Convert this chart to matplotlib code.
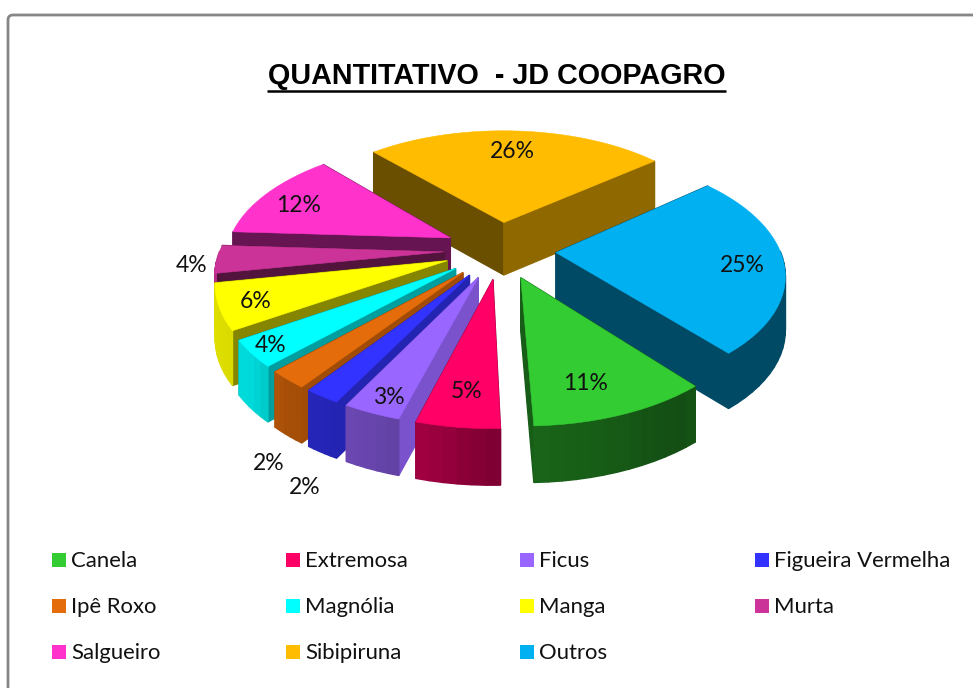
import numpy as np
import matplotlib
matplotlib.use("Agg")
import matplotlib.pyplot as plt
from matplotlib.patches import Polygon, FancyBboxPatch, Rectangle

title = "QUANTITATIVO  - JD COOPAGRO"
categories = ["Canela", "Extremosa", "Ficus", "Figueira Vermelha", "Ipê Roxo", "Magnólia",
              "Manga", "Murta", "Salgueiro", "Sibipiruna", "Outros"]
values = [10.6, 4.9, 3.4, 2.1, 2.4, 3.6, 6.2, 3.8, 12.4, 25.7, 24.9]
colors = ["#33CC33", "#FF0066", "#9966FF", "#3333FF", "#E46C0A", "#00FFFF",
          "#FFFF00", "#CC3399", "#FF33CC", "#FFBC00", "#00B0F0"]
# darkness of the two flat walls of each wedge (first edge, last edge)
wall_start = [0.45, 0.55, 0.80, 0.70, 0.70, 0.62, 0.52, 0.40, 0.40, 0.42, 0.42]
wall_end = [0.45, 0.55, 0.80, 0.68, 0.62, 0.62, 0.50, 0.40, 0.40, 0.56, 0.42]
# label anchors in pixels
label_x = [586, 467, 389, 305, 269, 271, 256, 192, 299, 512, 742]
label_y = [384, 392, 397, 488, 463, 345, 302, 266, 205, 151, 265]

START = 140.0
CX, CY, RX, RY, K, EXPL, DEPTH = 500, 250, 224, 114.5, 0.16, 0.25, 53

W, H = 973, 688
fig = plt.figure(figsize=(W / 100, H / 100), dpi=100, facecolor="white")
ax = fig.add_axes([0, 0, 1, 1])
ax.set_xlim(0, W)
ax.set_ylim(H, 0)
ax.axis("off")

ax.add_patch(FancyBboxPatch((8, 15), 1100, 800, boxstyle="round,pad=0,rounding_size=5",
                            fc="white", ec="#868686", lw=2, zorder=0))


def project(x, y):
    f = 1 / (1 - K * y)
    return CX + RX * x * f, CY + RY * y * f, f ** 0.3


def shade(hexcol, s):
    return tuple(c * s for c in matplotlib.colors.to_rgb(hexcol))


outer_ang = [50, 140, 145, 165, 180, 197, 203, 212, 219, 230, 258, 280]
outer_shd = [0.42, 0.42, 0.38, 0.45, 0.50, 0.65, 0.68, 0.72, 0.72, 0.85, 0.88, 0.88]

fractions = np.array(values) / np.sum(values) * 360
a0 = START + np.concatenate([[0], np.cumsum(fractions)[:-1]])
a1 = a0 + fractions

wedges = []
for i in range(len(values)):
    mid = np.radians((a0[i] + a1[i]) / 2)
    ox, oy = EXPL * np.sin(mid), -EXPL * np.cos(mid)
    ang = np.radians(np.linspace(a0[i], a1[i], max(int(fractions[i] / 3) + 2, 6)))
    xs, ys, fs = project(ox + np.sin(ang), oy - np.cos(ang))
    ax_, ay_, af_ = project(ox, oy)
    wedges.append((ay_, i, ang, xs, ys, fs, ax_, ay_, af_))

z = 2
for ay_, i, ang, xs, ys, fs, apx, apy, apf in sorted(wedges, key=lambda w: w[0]):
    quads = []
    q0 = [(apx, apy), (xs[0], ys[0]), (xs[0], ys[0] + DEPTH * fs[0]), (apx, apy + DEPTH * apf)]
    q1 = [(apx, apy), (xs[-1], ys[-1]), (xs[-1], ys[-1] + DEPTH * fs[-1]), (apx, apy + DEPTH * apf)]
    quads.append(((apy + ys[0]) / 2, q0, shade(colors[i], wall_start[i])))
    quads.append(((apy + ys[-1]) / 2, q1, shade(colors[i], wall_end[i])))
    for j in range(len(xs) - 1):
        a_mid = (ang[j] + ang[j + 1]) / 2
        if np.cos(a_mid) > 0:  # outer wall faces away from the viewer
            continue
        q = [(xs[j], ys[j]), (xs[j + 1], ys[j + 1]),
             (xs[j + 1], ys[j + 1] + DEPTH * fs[j + 1]), (xs[j], ys[j] + DEPTH * fs[j])]
        s = np.interp(np.degrees(a_mid) % 360, outer_ang, outer_shd)
        quads.append(((ys[j] + ys[j + 1]) / 2, q, shade(colors[i], s)))
    for _, q, c in sorted(quads, key=lambda t: t[0]):
        ax.add_patch(Polygon(q, closed=True, fc=c, ec=c, lw=1.0, zorder=z))
        z += 1
    top = np.column_stack([np.r_[apx, xs], np.r_[apy, ys]])
    ax.add_patch(Polygon(top, closed=True, fc=colors[i], ec=colors[i], lw=0.4, zorder=z))
    z += 1

font = "Lato"
for i, v in enumerate(values):
    ax.text(label_x[i], label_y[i], f"{v:.0f}%", ha="center", va="center", fontsize=16.5,
            family=font, color="#111111", zorder=500)

ax.text(497, 76, title, ha="center", va="center", fontsize=20.7, fontweight="bold",
        family="Liberation Sans", color="black", zorder=500)
ax.plot([267, 726], [91, 91], color="black", lw=1.8, zorder=500, solid_capstyle="butt")

col_x = [52, 286, 520, 755]
row_y = [560, 606, 652]
for i, name in enumerate(categories):
    r, c = divmod(i, 4)
    ax.add_patch(Rectangle((col_x[c], row_y[r] - 7), 14, 14, fc=colors[i], ec="none", zorder=500))
    ax.text(col_x[c] + 19, row_y[r] + 1, name, ha="left", va="center", fontsize=15.9,
            family=font, color="#111111", zorder=500)

fig.savefig("out.png", dpi=100, facecolor="white")
